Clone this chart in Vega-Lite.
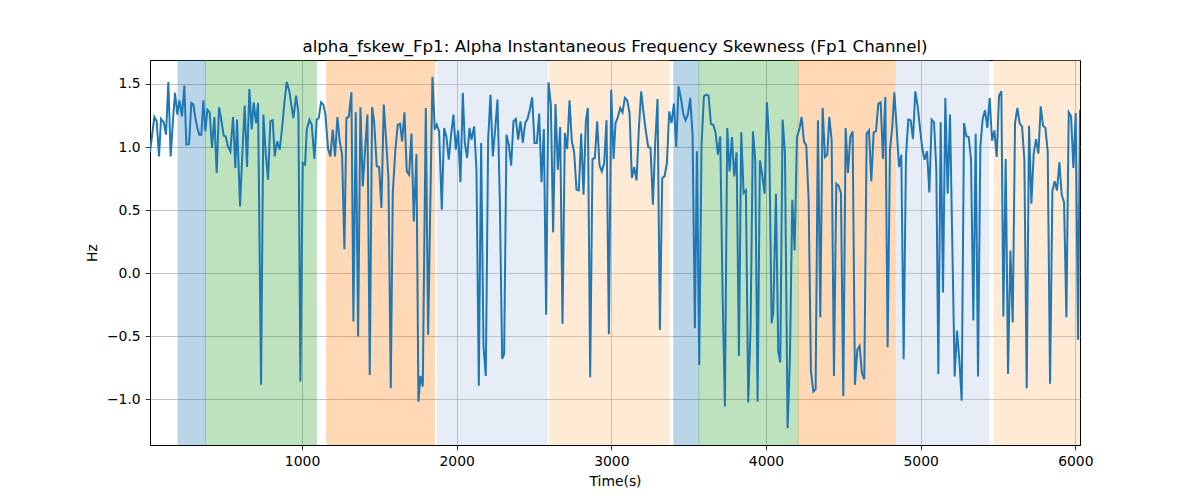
{
  "$schema": "https://vega.github.io/schema/vega-lite/v6.json",
  "autosize": {"type": "none"},
  "padding": {"left": 150, "top": 60, "right": 120, "bottom": 55},
  "width": 930,
  "height": 385,
  "background": "white",
  "title": {"text": "alpha_fskew_Fp1: Alpha Instantaneous Frequency Skewness (Fp1 Channel)", "font": "DejaVu Sans", "fontSize": 16.7, "fontWeight": "normal", "color": "black", "offset": 4},
  "config": {
    "view": {"stroke": "black", "strokeWidth": 1},
    "axis": {"domainColor": "black", "tickColor": "black", "labelColor": "black", "titleColor": "black", "labelFont": "DejaVu Sans", "titleFont": "DejaVu Sans", "labelFontSize": 13.9, "titleFontSize": 13.9, "titleFontWeight": "normal", "gridColor": "#b0b0b0", "gridWidth": 0.8, "tickSize": 4.9, "labelPadding": 4.9, "domainWidth": 1, "tickWidth": 0.8}
  },
  "datasets": {
    "spans": [
      {"start": 198, "end": 375, "kind": "a"},
      {"start": 375, "end": 1093, "kind": "b"},
      {"start": 1160, "end": 1858, "kind": "c"},
      {"start": 1876, "end": 2585, "kind": "d"},
      {"start": 2602, "end": 3372, "kind": "e"},
      {"start": 3404, "end": 3566, "kind": "a"},
      {"start": 3566, "end": 4208, "kind": "b"},
      {"start": 4208, "end": 4834, "kind": "c"},
      {"start": 4838, "end": 5442, "kind": "d"},
      {"start": 5474, "end": 6030, "kind": "e"}
    ],
    "signal": [
      {"t": 17, "v": 0.96}, {"t": 45.1, "v": 1.238}, {"t": 60.2, "v": 1.204}, {"t": 75.2, "v": 0.926}, {"t": 88.2, "v": 1.222}, {"t": 105.4, "v": 1.196}, {"t": 120.5, "v": 1.098}, {"t": 135.6, "v": 1.516}, {"t": 150.7, "v": 0.926}, {"t": 165.8, "v": 1.217}, {"t": 178.7, "v": 1.429}, {"t": 193.8, "v": 1.257}, {"t": 206.8, "v": 1.37}, {"t": 217.5, "v": 1.296}, {"t": 224.0, "v": 1.243}, {"t": 239.1, "v": 1.487}, {"t": 252.0, "v": 1.019}, {"t": 269.3, "v": 1.024}, {"t": 284.4, "v": 1.349}, {"t": 297.3, "v": 1.336}, {"t": 310.2, "v": 1.23}, {"t": 323.2, "v": 1.151}, {"t": 336.1, "v": 1.098}, {"t": 349.1, "v": 1.098}, {"t": 362.0, "v": 1.37}, {"t": 374.9, "v": 1.124}, {"t": 387.9, "v": 1.296}, {"t": 402.9, "v": 1.275}, {"t": 418.0, "v": 0.992}, {"t": 433.1, "v": 1.238}, {"t": 448.2, "v": 0.794}, {"t": 463.3, "v": 1.315}, {"t": 476.3, "v": 1.23}, {"t": 493.5, "v": 1.09}, {"t": 506.4, "v": 1.085}, {"t": 519.4, "v": 1.011}, {"t": 536.6, "v": 0.966}, {"t": 553.9, "v": 1.238}, {"t": 569.0, "v": 0.833}, {"t": 579.7, "v": 1.217}, {"t": 599.1, "v": 0.529}, {"t": 614.2, "v": 0.952}, {"t": 629.3, "v": 1.328}, {"t": 644.4, "v": 0.841}, {"t": 659.5, "v": 1.46}, {"t": 674.6, "v": 1.14}, {"t": 687.5, "v": 1.354}, {"t": 702.6, "v": 1.19}, {"t": 715.6, "v": 1.349}, {"t": 735.0, "v": -0.886}, {"t": 750.1, "v": 1.257}, {"t": 765.2, "v": 0.95}, {"t": 780.3, "v": 0.741}, {"t": 795.3, "v": 1.204}, {"t": 810.4, "v": 1.212}, {"t": 823.4, "v": 0.926}, {"t": 838.5, "v": 1.045}, {"t": 855.7, "v": 0.979}, {"t": 871, "v": 1.15}, {"t": 886, "v": 1.35}, {"t": 901.0, "v": 1.516}, {"t": 918.2, "v": 1.442}, {"t": 931, "v": 1.33}, {"t": 944.1, "v": 1.23}, {"t": 961.4, "v": 1.407}, {"t": 976.5, "v": 1.27}, {"t": 989.4, "v": -0.86}, {"t": 1004.5, "v": 0.873}, {"t": 1019.6, "v": 0.86},
      {"t": 1030.4, "v": 1.138}, {"t": 1047.6, "v": 1.217}, {"t": 1062.7, "v": 1.177}, {"t": 1080.0, "v": 0.905}, {"t": 1095.1, "v": 1.217}, {"t": 1108.0, "v": 1.23}, {"t": 1123.1, "v": 1.354}, {"t": 1138.2, "v": 1.336}, {"t": 1151.1, "v": 1.257}, {"t": 1168.4, "v": 0.984}, {"t": 1183.5, "v": 0.926}, {"t": 1198.5, "v": 1.138}, {"t": 1213.6, "v": 0.926}, {"t": 1228.7, "v": 1.238}, {"t": 1243.8, "v": 1.045}, {"t": 1258.9, "v": 0.939}, {"t": 1274.0, "v": 0.19}, {"t": 1286.9, "v": 1.23}, {"t": 1302.0, "v": 1.238}, {"t": 1319.3, "v": 1.434}, {"t": 1332.2, "v": -0.384}, {"t": 1347.3, "v": 1.275}, {"t": 1362.4, "v": -0.503}, {"t": 1377.5, "v": 1.315}, {"t": 1392.6, "v": 0.688}, {"t": 1409.8, "v": 1.019}, {"t": 1422.8, "v": 1.257}, {"t": 1437.9, "v": -0.807}, {"t": 1453.0, "v": 1.317}, {"t": 1465.9, "v": 1.204}, {"t": 1483.1, "v": 0.847}, {"t": 1498.2, "v": 0.841}, {"t": 1513.3, "v": 0.516}, {"t": 1528.4, "v": 1.336}, {"t": 1543.5, "v": 1.058}, {"t": 1558.6, "v": 0.754}, {"t": 1573.7, "v": -0.913}, {"t": 1586.6, "v": 0.635}, {"t": 1603.9, "v": 0.984}, {"t": 1619.0, "v": 1.177}, {"t": 1634.1, "v": 1.185}, {"t": 1647.0, "v": 1.045}, {"t": 1662.1, "v": 1.275}, {"t": 1677.2, "v": 0.807}, {"t": 1692.3, "v": 0.78}, {"t": 1707.4, "v": 1.106}, {"t": 1722.4, "v": 0.41}, {"t": 1739.7, "v": 0.944}, {"t": 1752.6, "v": -1.019}, {"t": 1765.6, "v": -0.815}, {"t": 1780.7, "v": -0.899}, {"t": 1800.1, "v": 1.31}, {"t": 1815.2, "v": -0.489}, {"t": 1843.2, "v": 1.556}, {"t": 1858.3, "v": 1.138}, {"t": 1871.2, "v": 1.177}, {"t": 1886.3, "v": 1.124}, {"t": 1903.6, "v": 0.503}, {"t": 1918.7, "v": 1.151}, {"t": 1933.7, "v": 1.079}, {"t": 1948.8, "v": 0.899}, {"t": 1963.9, "v": 1.098}, {"t": 1979.0, "v": 1.257}, {"t": 1994.1, "v": 0.979}, {"t": 2009.2, "v": 1.132}, {"t": 2024.3, "v": 0.72}, {"t": 2039.4, "v": 1.429},
      {"t": 2052.4, "v": 1.032}, {"t": 2067.5, "v": 0.913}, {"t": 2082.6, "v": 1.151}, {"t": 2095.5, "v": 1.058}, {"t": 2112.7, "v": 1.164}, {"t": 2127.8, "v": 0.82}, {"t": 2142.9, "v": -0.894}, {"t": 2158.0, "v": 1.032}, {"t": 2173.1, "v": -0.582}, {"t": 2188.2, "v": -0.815}, {"t": 2203.3, "v": 1.058}, {"t": 2218.4, "v": 1.415}, {"t": 2233.5, "v": 0.926}, {"t": 2248.6, "v": 1.138}, {"t": 2263.7, "v": 1.376}, {"t": 2278.8, "v": 0.582}, {"t": 2293.9, "v": -0.68}, {"t": 2306.8, "v": -0.64}, {"t": 2321.9, "v": 1.098}, {"t": 2337.0, "v": 1.019}, {"t": 2352.1, "v": 0.852}, {"t": 2367.2, "v": 1.204}, {"t": 2382.2, "v": 1.222}, {"t": 2397.3, "v": 1.058}, {"t": 2412.4, "v": 1.204}, {"t": 2427.5, "v": 1.032}, {"t": 2442.6, "v": 1.19}, {"t": 2457.7, "v": 1.222}, {"t": 2472.8, "v": 1.296}, {"t": 2487.9, "v": 1.394}, {"t": 2503.0, "v": 1.032}, {"t": 2518.1, "v": 1.032}, {"t": 2533.2, "v": 1.265}, {"t": 2548.3, "v": 0.72}, {"t": 2563.4, "v": 1.143}, {"t": 2578.4, "v": -0.331}, {"t": 2593.5, "v": 1.513}, {"t": 2608.6, "v": 1.336}, {"t": 2623.7, "v": 0.323}, {"t": 2638.8, "v": 1.341}, {"t": 2653.9, "v": 0.82}, {"t": 2669.0, "v": 1.159}, {"t": 2684.1, "v": -0.402}, {"t": 2699.2, "v": 1.111}, {"t": 2714.3, "v": 0.984}, {"t": 2729.4, "v": 1.37}, {"t": 2744.5, "v": 1.045}, {"t": 2759.5, "v": 0.958}, {"t": 2774.6, "v": 0.661}, {"t": 2789.7, "v": 0.656}, {"t": 2804.8, "v": 1.106}, {"t": 2819.9, "v": 0.622}, {"t": 2835.0, "v": 1.204}, {"t": 2847.9, "v": 1.31}, {"t": 2863.0, "v": -0.825}, {"t": 2878.1, "v": 0.905}, {"t": 2893.2, "v": 0.913}, {"t": 2908.3, "v": 1.204}, {"t": 2923.4, "v": 0.852}, {"t": 2938.5, "v": 0.807}, {"t": 2953.6, "v": 0.873}, {"t": 2968.7, "v": 1.212}, {"t": 2983.8, "v": -0.484}, {"t": 2998.9, "v": 1.455}, {"t": 3014.0, "v": 0.905},
      {"t": 3027.0, "v": 1.19}, {"t": 3042.0, "v": 1.238}, {"t": 3057.1, "v": 1.31}, {"t": 3072.2, "v": 1.275}, {"t": 3087.3, "v": 1.389}, {"t": 3102.4, "v": 1.37}, {"t": 3117.5, "v": 1.27}, {"t": 3132.6, "v": 0.754}, {"t": 3147.7, "v": 0.841}, {"t": 3162.8, "v": 0.735}, {"t": 3177.9, "v": 1.151}, {"t": 3193.0, "v": 1.442}, {"t": 3208.1, "v": 1.27}, {"t": 3223.1, "v": 1.124}, {"t": 3238.2, "v": 1.0}, {"t": 3253.3, "v": 0.992}, {"t": 3268.4, "v": 0.542}, {"t": 3283.5, "v": 1.032}, {"t": 3298.6, "v": 1.381}, {"t": 3313.7, "v": -0.45}, {"t": 3328.8, "v": 0.754}, {"t": 3343.9, "v": 0.767}, {"t": 3359.0, "v": 0.873}, {"t": 3374.1, "v": 1.283}, {"t": 3389.2, "v": 1.19}, {"t": 3404.3, "v": 1.344}, {"t": 3419.3, "v": 1.0}, {"t": 3434.4, "v": 1.481}, {"t": 3449.5, "v": 1.389}, {"t": 3464.6, "v": 1.265}, {"t": 3479.7, "v": 1.212}, {"t": 3494.8, "v": 1.257}, {"t": 3509.9, "v": 1.389}, {"t": 3525.0, "v": 1.098}, {"t": 3540.1, "v": -0.437}, {"t": 3553.0, "v": 0.966}, {"t": 3568.1, "v": -0.728}, {"t": 3583.2, "v": 1.019}, {"t": 3598.3, "v": 1.402}, {"t": 3613.4, "v": 1.415}, {"t": 3628.5, "v": 1.407}, {"t": 3643.6, "v": 1.183}, {"t": 3658.7, "v": 1.177}, {"t": 3673.7, "v": 1.116}, {"t": 3688.8, "v": 0.939}, {"t": 3703.9, "v": 1.085}, {"t": 3719.0, "v": -0.159}, {"t": 3734.1, "v": -1.058}, {"t": 3749.2, "v": 1.151}, {"t": 3764.3, "v": 0.807}, {"t": 3779.4, "v": 1.079}, {"t": 3794.5, "v": 0.767}, {"t": 3809.6, "v": 0.958}, {"t": 3824.7, "v": -0.656}, {"t": 3839.8, "v": 1.116}, {"t": 3854.9, "v": 0.635}, {"t": 3869.9, "v": 0.656}, {"t": 3885.0, "v": -1.026}, {"t": 3900.1, "v": -0.423}, {"t": 3915.2, "v": 1.124}, {"t": 3930.3, "v": 0.899}, {"t": 3945.4, "v": -1.019}, {"t": 3960.5, "v": 0.894}, {"t": 3975.6, "v": 0.78}, {"t": 3990.7, "v": 0.63}, {"t": 4005.8, "v": 1.354}, {"t": 4020.9, "v": 1.032}, {"t": 4036.0, "v": -0.397},
      {"t": 4046.8, "v": -0.317}, {"t": 4064.1, "v": 0.63}, {"t": 4079.2, "v": -0.622}, {"t": 4092.1, "v": -0.709}, {"t": 4107.2, "v": 1.217}, {"t": 4122.3, "v": 0.952}, {"t": 4139.5, "v": -1.23}, {"t": 4154.6, "v": -0.661}, {"t": 4169.7, "v": 0.582}, {"t": 4184.8, "v": 0.18}, {"t": 4199.9, "v": 1.079}, {"t": 4215.0, "v": 1.138}, {"t": 4230.1, "v": 1.238}, {"t": 4245.2, "v": 1.045}, {"t": 4260.3, "v": 1.011}, {"t": 4275.4, "v": 0.582}, {"t": 4290.5, "v": -0.78}, {"t": 4305.6, "v": -0.939}, {"t": 4320.6, "v": -0.921}, {"t": 4335.7, "v": 1.212}, {"t": 4350.8, "v": -0.349}, {"t": 4365.9, "v": 1.31}, {"t": 4381.0, "v": 0.921}, {"t": 4396.1, "v": 0.939}, {"t": 4409.0, "v": 1.238}, {"t": 4424.1, "v": 1.058}, {"t": 4439.2, "v": -0.815}, {"t": 4454.3, "v": 0.709}, {"t": 4469.4, "v": 0.693}, {"t": 4484.5, "v": 0.635}, {"t": 4499.6, "v": -0.974}, {"t": 4514.7, "v": 1.151}, {"t": 4529.8, "v": 0.794}, {"t": 4544.9, "v": 1.079}, {"t": 4559.9, "v": 1.124}, {"t": 4575.0, "v": -0.886}, {"t": 4590.1, "v": -0.608}, {"t": 4605.2, "v": -0.577}, {"t": 4620.3, "v": -0.794}, {"t": 4635.4, "v": -0.841}, {"t": 4650.5, "v": 1.106}, {"t": 4665.6, "v": 1.132}, {"t": 4680.7, "v": 0.728}, {"t": 4695.8, "v": 1.116}, {"t": 4710.9, "v": 1.124}, {"t": 4726.0, "v": 1.344}, {"t": 4741.1, "v": 1.354}, {"t": 4756.2, "v": 0.905}, {"t": 4771.2, "v": 1.397}, {"t": 4786.3, "v": -0.587}, {"t": 4801.4, "v": 0.979}, {"t": 4816.5, "v": 1.164}, {"t": 4829.5, "v": 1.434}, {"t": 4844.6, "v": 1.15}, {"t": 4859.6, "v": 0.841}, {"t": 4874.7, "v": 0.939}, {"t": 4889.8, "v": -0.683}, {"t": 4904.9, "v": 0.926}, {"t": 4920.0, "v": 1.217}, {"t": 4935.1, "v": 1.212}, {"t": 4950.2, "v": 1.063}, {"t": 4965.3, "v": 1.442}, {"t": 4980.4, "v": 1.323}, {"t": 4997.6, "v": 1.124},
      {"t": 5010.6, "v": 0.984}, {"t": 5025.7, "v": 0.899}, {"t": 5040.8, "v": 0.966}, {"t": 5055.9, "v": 0.64}, {"t": 5071.0, "v": 1.217}, {"t": 5086.1, "v": 1.196}, {"t": 5101.1, "v": 0.82}, {"t": 5114.1, "v": -0.799}, {"t": 5129.2, "v": 1.196}, {"t": 5144.3, "v": -0.153}, {"t": 5159.4, "v": 1.389}, {"t": 5174.4, "v": 0.63}, {"t": 5189.5, "v": 1.257}, {"t": 5204.6, "v": 0.22}, {"t": 5219.7, "v": -0.82}, {"t": 5234.8, "v": -0.455}, {"t": 5249.9, "v": -0.688}, {"t": 5265.0, "v": -1.011}, {"t": 5280.1, "v": 1.19}, {"t": 5295.2, "v": 1.085}, {"t": 5310.3, "v": 1.079}, {"t": 5325.4, "v": 0.899}, {"t": 5340.5, "v": -0.376}, {"t": 5355.6, "v": 1.106}, {"t": 5370.6, "v": -0.82}, {"t": 5385.7, "v": 1.005}, {"t": 5400.8, "v": 1.222}, {"t": 5415.9, "v": 1.291}, {"t": 5431.0, "v": 1.151}, {"t": 5446.1, "v": 1.389}, {"t": 5461.2, "v": 1.05}, {"t": 5476.3, "v": 1.132}, {"t": 5491.4, "v": 0.921}, {"t": 5506.5, "v": 1.407}, {"t": 5521.6, "v": 1.442}, {"t": 5534.5, "v": -0.344}, {"t": 5549.6, "v": 0.905}, {"t": 5564.7, "v": -0.799}, {"t": 5579.8, "v": 0.18}, {"t": 5594.9, "v": -0.392}, {"t": 5610.0, "v": 1.19}, {"t": 5625.1, "v": 1.31}, {"t": 5640.1, "v": 1.185}, {"t": 5655.2, "v": 1.164}, {"t": 5670.3, "v": 0.899}, {"t": 5685.4, "v": -0.913}, {"t": 5700.5, "v": 1.169}, {"t": 5715.6, "v": 0.55}, {"t": 5730.7, "v": 0.947}, {"t": 5745.8, "v": 1.063}, {"t": 5760.9, "v": 0.947}, {"t": 5776.0, "v": 1.323}, {"t": 5791.1, "v": 1.169}, {"t": 5806.2, "v": 1.151}, {"t": 5821.3, "v": 0.966}, {"t": 5836.4, "v": -0.878}, {"t": 5851.5, "v": 0.656}, {"t": 5866.5, "v": 0.728}, {"t": 5881.6, "v": 0.656}, {"t": 5896.7, "v": 0.878}, {"t": 5911.8, "v": 0.622}, {"t": 5926.9, "v": 0.561}, {"t": 5942.0, "v": -0.349}, {"t": 5957.1, "v": 1.275}, {"t": 5972.2, "v": 1.243}, {"t": 5987.3, "v": 0.833}, {"t": 6002.4, "v": 1.27}, {"t": 6017.5, "v": -0.529}, {"t": 6030.0, "v": 1.296}
    ]
  },
  "layer": [
    {
      "data": {"name": "spans"},
      "mark": {"type": "rect", "opacity": 0.3, "strokeWidth": 1, "clip": true},
      "encoding": {
        "x": {"field": "start", "type": "quantitative", "scale": {"domain": [17, 6030], "nice": false, "zero": false},
              "axis": {"title": "Time(s)", "values": [1000, 2000, 3000, 4000, 5000, 6000], "format": "d", "grid": true, "titlePadding": 6}},
        "x2": {"field": "end"},
        "color": {"field": "kind", "type": "nominal", "legend": null,
                  "scale": {"domain": ["a", "b", "c", "d", "e"], "range": ["#1f77b4", "#2ca02c", "#ff7f0e", "#aec7e8", "#ffbb78"]}},
        "stroke": {"field": "kind", "type": "nominal", "legend": null,
                  "scale": {"domain": ["a", "b", "c", "d", "e"], "range": ["#1f77b4", "#2ca02c", "#ff7f0e", "#aec7e8", "#ffbb78"]}}
      }
    },
    {
      "data": {"name": "signal"},
      "mark": {"type": "line", "color": "#1f77b4", "strokeWidth": 2, "clip": true},
      "encoding": {
        "x": {"field": "t", "type": "quantitative"},
        "y": {"field": "v", "type": "quantitative", "scale": {"domain": [-1.363, 1.69], "nice": false, "zero": false},
              "axis": {"title": "Hz", "values": [-1, -0.5, 0, 0.5, 1, 1.5], "format": ".1f", "grid": true, "titlePadding": 7}}
      }
    }
  ]
}
